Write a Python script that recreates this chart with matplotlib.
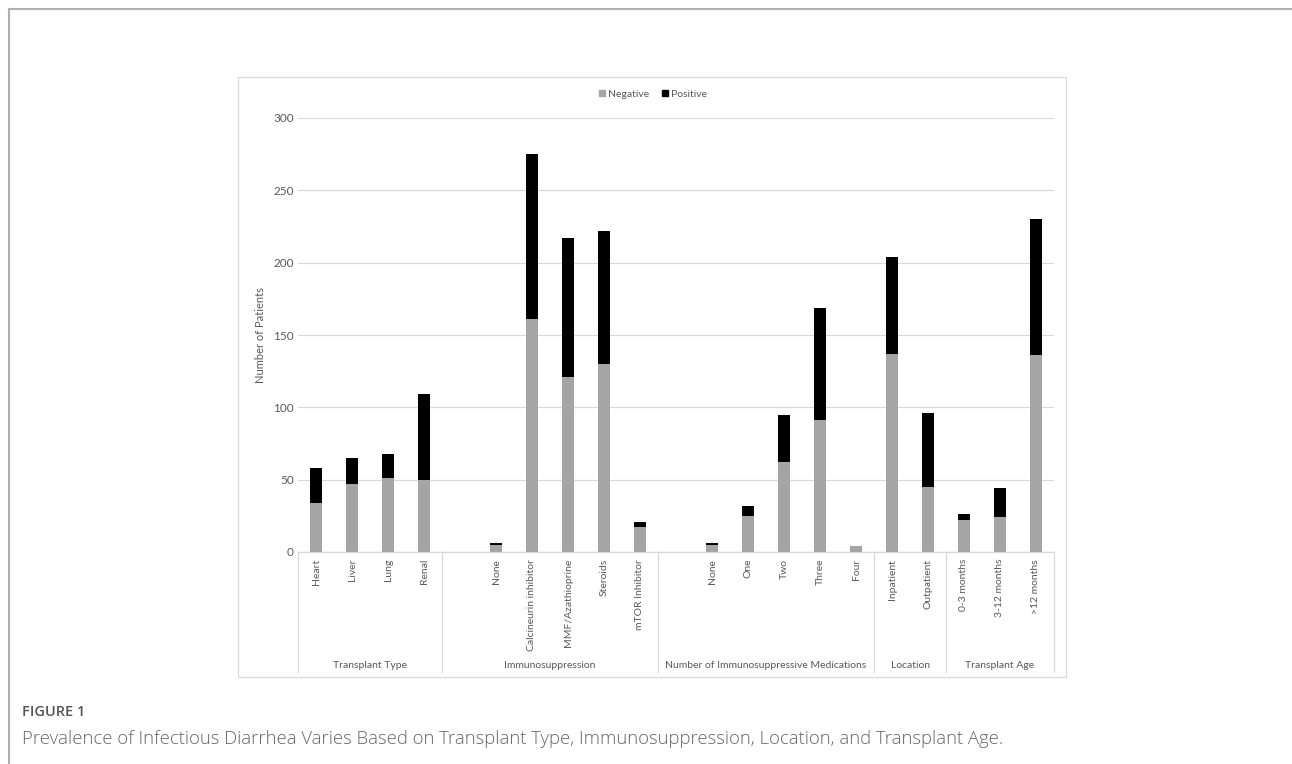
import matplotlib
matplotlib.use("Agg")
import matplotlib.pyplot as plt
from matplotlib.patches import Rectangle
from matplotlib.lines import Line2D
import matplotlib.transforms as mtransforms

# ---- data ----
groups = ["Transplant Type", "Immunosuppression",
          "Number of Immunosuppressive Medications", "Location", "Transplant Age"]
group_categories = [
    ["Heart", "Liver", "Lung", "Renal"],
    ["", "None", "Calcineurin inhibitor", "MMF/Azathioprine", "Steroids", "mTOR Inhibitor"],
    ["", "None", "One", "Two", "Three", "Four"],
    ["Inpatient", "Outpatient"],
    ["0-3 months", "3-12 months", ">12 months"],
]
negative = [34, 47, 51, 50,
            0, 5, 161, 121, 130, 17,
            0, 5, 25, 62, 91, 4,
            137, 45,
            22, 24, 136]
positive = [24, 18, 17, 59,
            0, 1, 114, 96, 92, 4,
            0, 1, 7, 33, 78, 0,
            67, 51,
            4, 20, 94]
y_ticks = [0, 50, 100, 150, 200, 250, 300]

W, H = 1292, 764
fig = plt.figure(figsize=(W / 100, H / 100), dpi=100)
plt.rcParams['font.family'] = ['Lato', 'DejaVu Sans']

def px(x, y):
    return x / W, 1 - y / H

# axes: x 298..1054, y 552 (0) .. 118 (300)
ax = fig.add_axes([298 / W, 1 - 552 / H, (1054 - 298) / W, (552 - 118) / H])

labels = [c for g in group_categories for c in g]
xs = list(range(len(labels)))
neg_c = "#A5A5A5"
pos_c = "#000000"
ax.bar(xs, negative, width=0.33, color=neg_c, zorder=3)
ax.bar(xs, positive, width=0.33, bottom=negative, color=pos_c, zorder=3)

ax.set_xlim(-0.5, len(labels) - 0.5)
ax.set_ylim(0, 300)
ax.set_yticks(y_ticks)
ax.yaxis.grid(True, color="#D9D9D9", lw=0.9, zorder=0)
ax.set_axisbelow(True)
for s in ["top", "right", "left"]:
    ax.spines[s].set_visible(False)
ax.spines["bottom"].set_color("#D9D9D9")
ax.spines["bottom"].set_linewidth(0.9)
ax.tick_params(axis="y", length=0, labelsize=8.5, labelcolor="#595959", pad=3)
ax.tick_params(axis="x", length=0, labelsize=7.5, labelcolor="#595959", pad=5)
ax.set_xticks(xs)
ax.set_xticklabels(labels, rotation=90, va="top", ha="center")
ax.set_ylabel("Number of Patients", fontsize=8, color="#595959", labelpad=5)

# group separators and labels
trans = mtransforms.blended_transform_factory(ax.transData, ax.transAxes)
y_bot = (552 - 672) / (552 - 118)
y_lab = (552 - 665) / (552 - 118)
start = 0
bounds = [-0.5]
for g, cats in zip(groups, group_categories):
    end = start + len(cats)
    bounds.append(end - 0.5)
    ax.text((start + end - 1) / 2, y_lab, g, transform=trans, ha="center", va="center",
            fontsize=7.5, color="#595959")
    start = end
for b in bounds:
    ax.plot([b, b], [0, y_bot], transform=trans, color="#D9D9D9", lw=0.9, clip_on=False)

# legend
handles = [Line2D([], [], marker="s", ls="", color=neg_c, markersize=5),
           Line2D([], [], marker="s", ls="", color=pos_c, markersize=5)]
fig.legend(handles, ["Negative", "Positive"], loc="center", bbox_to_anchor=px(652, 94),
           ncol=2, frameon=False, fontsize=7.5, handletextpad=0.1, columnspacing=1.0,
           labelcolor="#595959", handlelength=1.0)

# chart frame
x0, y0 = px(238, 677)
x1, y1 = px(1066, 77)
fig.add_artist(Rectangle((x0, y0), x1 - x0, y1 - y0, transform=fig.transFigure,
                         fill=False, edgecolor="#D9D9D9", lw=0.9))

# outer page frame
fig.add_artist(Line2D([9 / W, 1], [1 - 9 / H, 1 - 9 / H], transform=fig.transFigure,
                      color="#B0B0B0", lw=1.5))
fig.add_artist(Line2D([9 / W, 9 / W], [1 - 9 / H, 0], transform=fig.transFigure,
                      color="#B0B0B0", lw=1.5))

# caption
fig.text(*px(22, 712), "FIGURE 1", fontsize=10.5, color="#555555", fontweight="semibold",
         va="center", ha="left", family=["Open Sans", "DejaVu Sans"])
fig.text(*px(22, 739), "Prevalence of Infectious Diarrhea Varies Based on Transplant Type, "
         "Immunosuppression, Location, and Transplant Age.", fontsize=13.3, color="#666666",
         va="center", ha="left", family=["Open Sans", "DejaVu Sans"], fontweight="light")

fig.savefig("out.png", dpi=100)
